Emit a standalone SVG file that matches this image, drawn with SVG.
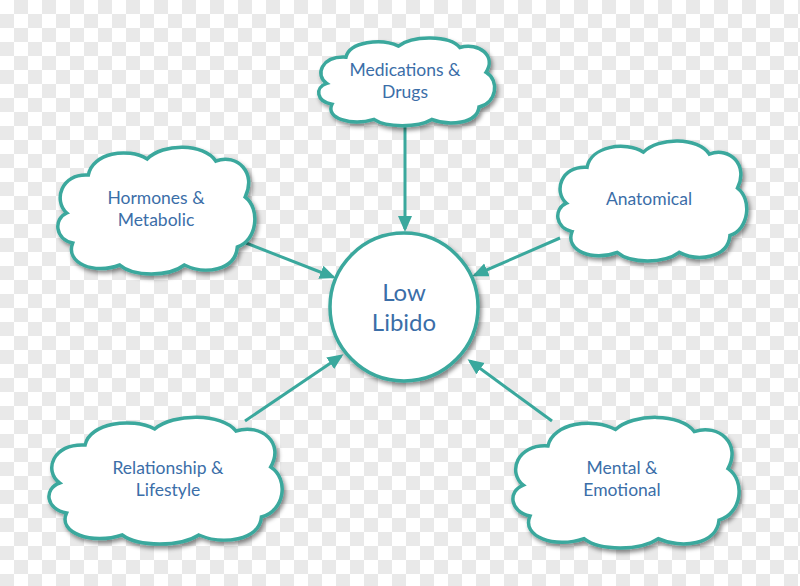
<svg xmlns="http://www.w3.org/2000/svg" xmlns:xlink="http://www.w3.org/1999/xlink" width="800" height="586" viewBox="0 0 800 586">
  <defs>
    <pattern id="checker" width="28" height="28" patternUnits="userSpaceOnUse">
      <rect width="28" height="28" fill="#ffffff"/>
      <rect x="14" y="0" width="14" height="14" fill="#e9e9e9"/>
      <rect x="0" y="14" width="14" height="14" fill="#e9e9e9"/>
    </pattern>
    <filter id="shadow" x="-10%" y="-10%" width="125%" height="130%">
      <feDropShadow dx="2" dy="3" stdDeviation="2" flood-color="#000" flood-opacity="0.45"/>
    </filter>
    <path id="cloud" vector-effect="non-scaling-stroke" d="M 10,70 C -4,58 4,30 32,32 C 36,10 72,4 92,16 C 108,0 150,0 162,18 C 184,10 204,30 192,54 C 208,66 204,98 184,104 C 182,128 150,132 130,122 C 114,134 78,134 64,122 C 38,132 8,120 16,100 C -2,96 -4,76 10,70 Z"/>
    <marker id="arrow" markerUnits="userSpaceOnUse" markerWidth="18" markerHeight="16" refX="13" refY="7" orient="auto">
      <path d="M0,0 L16,7 L0,14 Z" fill="#3aa89d"/>
    </marker>
    <style>
      .cloud { fill: #ffffff; stroke: #3aa89d; stroke-width: 3.5; }
      .hub { fill: #ffffff; stroke: #3aa89d; stroke-width: 3.5; }
      .label { font-family: Lato, "Open Sans", "Liberation Sans", sans-serif; fill: #3b6ea8; text-anchor: middle; }
      .small { font-size: 17.5px; }
      .big { font-size: 24px; }
      .conn { stroke: #3aa89d; stroke-width: 3; fill: none; marker-end: url(#arrow); }
    </style>
  </defs>

  <rect width="800" height="586" fill="url(#checker)"/>

  <g id="connectors">
    <line class="conn" x1="405" y1="125" x2="405" y2="229"/>
    <line class="conn" x1="246" y1="243" x2="333" y2="277"/>
    <line class="conn" x1="560" y1="238" x2="475" y2="275"/>
    <line class="conn" x1="245" y1="421" x2="341" y2="356"/>
    <line class="conn" x1="552" y1="421" x2="470" y2="361"/>
  </g>

  <g id="medications">
    <g filter="url(#shadow)">
      <use xlink:href="#cloud" class="cloud" transform="translate(318,35) scale(0.875,0.692)"/>
    </g>
    <text class="label small" x="405" y="76">Medications &amp;</text>
    <text class="label small" x="405" y="98">Drugs</text>
  </g>

  <g id="hormones">
    <g filter="url(#shadow)">
      <use xlink:href="#cloud" class="cloud" transform="translate(57,143) scale(0.98,1.0)"/>
    </g>
    <text class="label small" x="156" y="204">Hormones &amp;</text>
    <text class="label small" x="156" y="226">Metabolic</text>
  </g>

  <g id="anatomical">
    <g filter="url(#shadow)">
      <use xlink:href="#cloud" class="cloud" transform="translate(557,137) scale(0.94,0.946)"/>
    </g>
    <text class="label small" x="649" y="205">Anatomical</text>
  </g>

  <g id="relationship">
    <g filter="url(#shadow)">
      <use xlink:href="#cloud" class="cloud" transform="translate(48,413) scale(1.16,1.0)"/>
    </g>
    <text class="label small" x="168" y="474">Relationship &amp;</text>
    <text class="label small" x="168" y="496">Lifestyle</text>
  </g>

  <g id="mental">
    <g filter="url(#shadow)">
      <use xlink:href="#cloud" class="cloud" transform="translate(512,413) scale(1.125,1.03)"/>
    </g>
    <text class="label small" x="622" y="474">Mental &amp;</text>
    <text class="label small" x="622" y="496">Emotional</text>
  </g>

  <g id="low-libido">
    <circle class="hub" cx="404" cy="307" r="74" filter="url(#shadow)"/>
    <text class="label big" x="404" y="301">Low</text>
    <text class="label big" x="404" y="331">Libido</text>
  </g>
</svg>
